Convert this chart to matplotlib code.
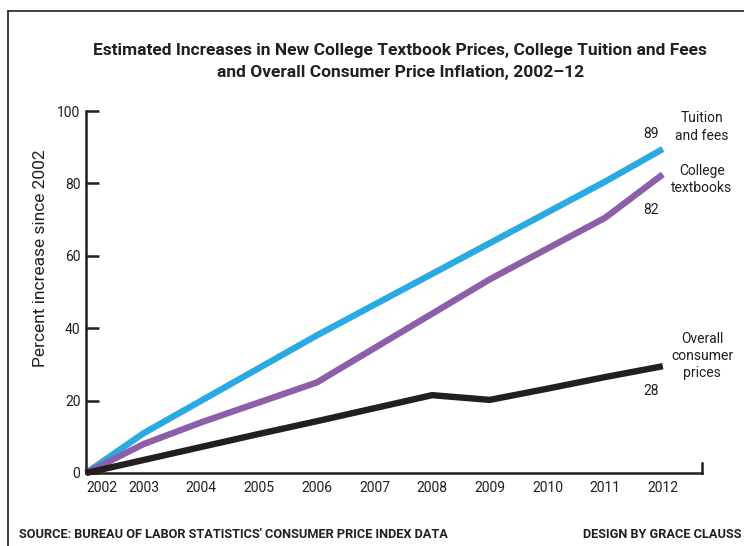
import matplotlib
matplotlib.use("Agg")
import matplotlib.pyplot as plt
from matplotlib.lines import Line2D
from matplotlib import font_manager

years = [2002, 2003, 2004, 2005, 2006, 2007, 2008, 2009, 2010, 2011, 2012]
tuition = [0, 11, 20, 29, 38, 46.5, 55, 63.5, 72, 80.5, 89.5]
textbooks = [0, 8, 14, 19.5, 25, 34.5, 44, 53.5, 62, 70.5, 82.5]
cpi = [0, 3.6, 7.2, 10.8, 14.3, 17.9, 21.5, 20.2, 23.3, 26.5, 29.5]

series_names = ["Tuition\nand fees", "College\ntextbooks", "Overall\nconsumer\nprices"]
end_labels = ["89", "82", "28"]
y_ticks = [0, 20, 40, 60, 80, 100]

title = ("Estimated Increases in New College Textbook Prices, College Tuition and Fees\n"
         "and Overall Consumer Price Inflation, 2002\u201312")
source = "SOURCE: BUREAU OF LABOR STATISTICS' CONSUMER PRICE INDEX DATA"
credit = "DESIGN BY GRACE CLAUSS"

names = {f.name for f in font_manager.fontManager.ttflist}
narrow = "Liberation Sans Narrow" if "Liberation Sans Narrow" in names else "Roboto"
plt.rcParams["font.family"] = [narrow, "DejaVu Sans"]

ink = "#231f20"
colors = ["#29abe2", "#8c5fa8", ink]

fig = plt.figure(figsize=(7.44, 5.46), dpi=100)
ax = fig.add_axes([0.1156, 0.1337, 0.828, 0.663])

for vals, c in zip([tuition, textbooks, cpi], colors):
    ax.plot(years, vals, color=c, lw=4.6, solid_capstyle="butt", solid_joinstyle="miter", clip_on=False)

ax.set_xlim(2002, 2012.68)
ax.set_ylim(0, 100)
ax.set_yticks(y_ticks)
ax.set_xticks(years)
ax.set_xticklabels([str(y) for y in years])
ax.get_xticklabels()[0].set_ha("left")
ax.tick_params(axis="x", length=0, pad=6, labelsize=10, colors=ink)
ax.tick_params(axis="y", direction="in", length=9, width=1.8, pad=4, labelsize=10, colors=ink)
for s in ["top", "right"]:
    ax.spines[s].set_visible(False)
for s in ["left", "bottom"]:
    ax.spines[s].set_linewidth(1.8)
    ax.spines[s].set_color(ink)
# small upward stub at the right end of the x axis
ax.plot([1, 1], [0, 0.028], transform=ax.transAxes, color=ink, lw=1.8, clip_on=False)

ax.set_ylabel("Percent increase since 2002", fontsize=12.5, color=ink)
ax.yaxis.set_label_coords(-0.062, 0.594)

# series names and end values
name_pos = [95.6, 81, 32.3]
value_pos = [93.6, 72.6, 22.6]
for name, lab, yn, yv in zip(series_names, end_labels, name_pos, value_pos):
    ax.text(2012.68, yn, name, ha="center", va="center", fontsize=10, color=ink,
            linespacing=1.3, clip_on=False)
    ax.text(2011.79, yv, lab, ha="center", va="center", fontsize=10, color=ink, clip_on=False)

fig.text(0.538, 0.888, title, ha="center", va="center", fontsize=12.5, fontweight="bold",
         color=ink, linespacing=1.6)
fig.text(0.025, 0.009, source, ha="left", va="bottom", fontsize=9.2, fontweight="bold", color=ink)
fig.text(0.997, 0.009, credit, ha="right", va="bottom", fontsize=9.2, fontweight="bold", color=ink)

# frame lines along top and left edge
fig.add_artist(Line2D([0.011, 1.0], [0.98, 0.98], color=ink, lw=1.2, transform=fig.transFigure))
fig.add_artist(Line2D([0.011, 0.011], [0.0, 0.98], color=ink, lw=1.2, transform=fig.transFigure))

fig.savefig("out.png", dpi=100)
